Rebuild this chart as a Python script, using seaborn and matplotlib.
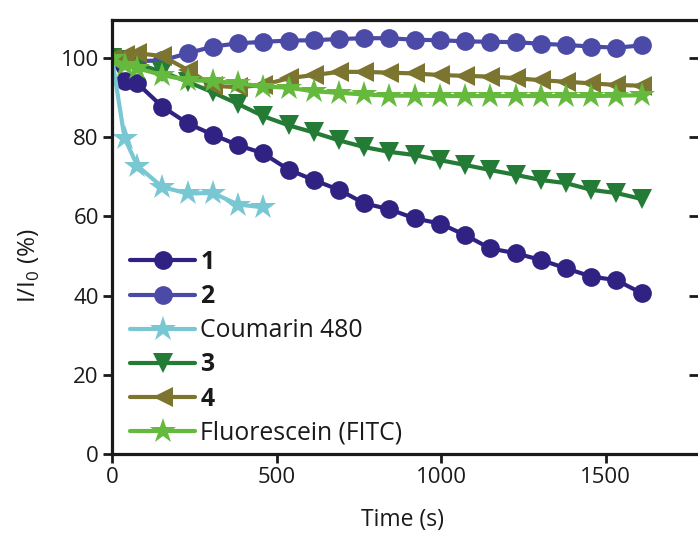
import matplotlib
matplotlib.use("Agg")
import matplotlib.pyplot as plt
import seaborn as sns
import numpy as np

# ---- data ----
time_s = [0, 38, 77, 153, 230, 307, 383, 460, 537, 613, 690, 767, 843,
          920, 997, 1073, 1150, 1227, 1303, 1380, 1457, 1533, 1610]
time_coumarin = [0, 38, 77, 153, 230, 307, 383, 460]

s1 = [100, 94.3, 93.6, 87.7, 83.5, 80.6, 78.0, 75.9, 71.8, 69.2, 66.7, 63.3,
      61.8, 59.5, 58.2, 55.3, 51.9, 50.7, 49.0, 46.9, 44.8, 43.9, 40.6]
s2 = [100, 99.6, 99.2, 99.4, 101.2, 102.9, 103.7, 104.1, 104.4, 104.5, 104.8,
      105.0, 105.0, 104.6, 104.5, 104.2, 104.1, 104.0, 103.6, 103.3, 102.9, 102.6, 103.2]
coumarin = [100, 79.8, 72.8, 67.4, 65.8, 65.9, 63.0, 62.3]
s3 = [100, 99.5, 98.5, 96.5, 94.0, 91.3, 88.4, 85.3, 83.0, 81.2, 79.2, 77.5,
      76.3, 75.5, 74.2, 73.0, 71.7, 70.5, 69.2, 68.4, 66.7, 65.9, 64.4]
s4 = [100, 100.8, 101.2, 100.5, 97.0, 93.0, 92.6, 93.2, 94.9, 95.7, 96.5, 96.5,
      96.3, 96.1, 95.7, 95.5, 95.3, 94.9, 94.4, 94.0, 93.6, 93.2, 93.0]
fitc = [100, 98.2, 97.4, 95.7, 94.4, 94.2, 93.6, 92.8, 92.5, 91.6, 91.2, 90.8,
        90.5, 90.5, 90.4, 90.4, 90.4, 90.4, 90.4, 90.4, 90.4, 90.5, 90.6]

labels = ["1", "2", "Coumarin 480", "3", "4", "Fluorescein (FITC)"]
y_ticks = [0, 20, 40, 60, 80, 100]
x_ticks = [0, 500, 1000, 1500]

sns.set_theme(style="white")
plt.rcParams['font.family'] = ['Open Sans', 'DejaVu Sans']

fig = plt.figure(figsize=(6.98, 5.41), dpi=100)
ax = fig.add_axes([112/698, 1 - 454/541, 1 - 112/698, (454 - 20)/541])

series = [
    (time_s, s1, "#2f2282", "o", 13.5),
    (time_s, s2, "#4b4aa6", "o", 13.5),
    (time_coumarin, coumarin, "#78c7d3", "*", 19),
    (time_s, s3, "#237b36", "v", 14.5),
    (time_s, s4, "#7c7530", "<", 14.5),
    (time_s, fitc, "#65b93c", "*", 19),
]
for (t, v, c, m, ms), lab in zip(series, labels):
    sns.lineplot(x=t, y=v, ax=ax, color=c, marker=m, markersize=ms,
                 markeredgewidth=0, linewidth=3, label=lab)

ax.set_xlim(0, 1781)
ax.set_ylim(0, 109.6)
ax.set_xticks(x_ticks)
ax.set_yticks(y_ticks)
ax.tick_params(axis='both', direction='out', length=6.5, width=2,
               labelsize=16, color='#1a1a1a', labelcolor='#1a1a1a', pad=3,
               left=True, bottom=True)
for side in ['left', 'bottom', 'top']:
    ax.spines[side].set_linewidth(2.3)
    ax.spines[side].set_color('#1a1a1a')
ax.spines['right'].set_visible(False)

ax.set_xlabel("Time (s)", fontsize=16.5, color='#1a1a1a')
ax.set_ylabel("I/I$_\\mathregular{0}$ (%)", fontsize=17.5, color='#1a1a1a')
ax.xaxis.set_label_coords(0.495, -0.125)
ax.yaxis.set_label_coords(-0.12, 0.435)

# right-side inward ticks
ax2 = ax.twinx()
ax2.set_ylim(ax.get_ylim())
ax2.set_yticks(y_ticks)
ax2.tick_params(axis='y', direction='in', length=6.5, width=2, color='#1a1a1a',
                labelright=False, right=True)
for sp in ax2.spines.values():
    sp.set_visible(False)

leg = ax.legend(loc='upper left', bbox_to_anchor=(0.031, 0.47), frameon=False,
                fontsize=17.8, handlelength=2.63, handletextpad=0.2,
                labelspacing=0.37, borderpad=0, borderaxespad=0)
for txt in leg.get_texts():
    txt.set_color('#1a1a1a')
    if txt.get_text() in ("1", "2", "3", "4"):
        txt.set_fontweight('bold')

fig.savefig("out.png", dpi=100)
